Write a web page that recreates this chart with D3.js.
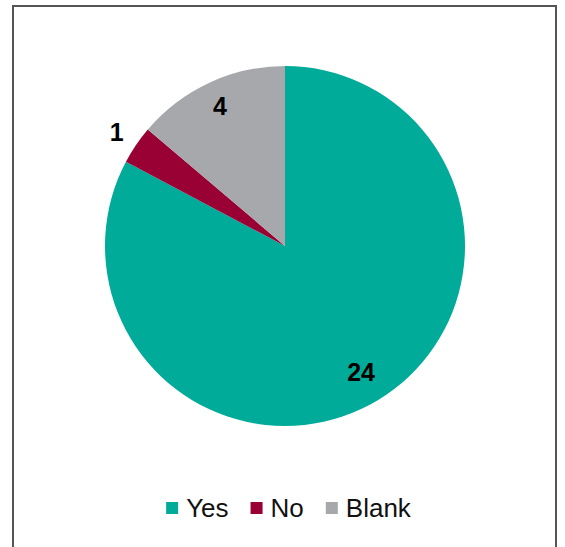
<!DOCTYPE html>
<html><head><meta charset="utf-8">
<script src="https://cdn.jsdelivr.net/npm/d3@7"></script>
<style>html,body{margin:0;padding:0;background:#fff;}svg{display:block;}</style>
</head><body>
<script>
const categories = ["Yes", "No", "Blank"];
const values = [24, 1, 4];
const colors = ["#00AB9A", "#990033", "#A7A8AB"];
const labelRadiusFactor = [0.82, 1.13, 0.86];

const W = 565, H = 547;
const cx = 285, cy = 246, R = 180;

const svg = d3.select("body").append("svg").attr("width", W).attr("height", H);
svg.append("rect").attr("x", 0).attr("y", 0).attr("width", W).attr("height", H).attr("fill", "#fff");
svg.append("rect").attr("x", 13).attr("y", 6).attr("width", 543).attr("height", H + 20)
  .attr("fill", "none").attr("stroke", "#555").attr("stroke-width", 2);

const data = categories.map((c, i) => ({cat: c, value: values[i], color: colors[i], lf: labelRadiusFactor[i]}));
const pie = d3.pie().value(d => d.value).sort(null);
const arc = d3.arc().innerRadius(0).outerRadius(R);
const arcs = pie(data);

const g = svg.append("g").attr("transform", `translate(${cx},${cy})`);
g.selectAll("path").data(arcs).enter().append("path")
  .attr("d", arc).attr("fill", d => d.data.color);

g.selectAll("text.lbl").data(arcs).enter().append("text")
  .attr("class", "lbl")
  .attr("x", d => { const a = (d.startAngle + d.endAngle) / 2; return Math.sin(a) * R * d.data.lf; })
  .attr("y", d => { const a = (d.startAngle + d.endAngle) / 2; return -Math.cos(a) * R * d.data.lf; })
  .attr("text-anchor", "middle").attr("dominant-baseline", "central")
  .attr("font-family", "Liberation Sans, Arial, sans-serif").attr("font-weight", "bold")
  .attr("font-size", 25).attr("fill", "#000")
  .text(d => d.data.value);

// legend
const lg = svg.append("g");
const items = lg.selectAll("g").data(data).enter().append("g");
items.append("rect").attr("width", 12).attr("height", 12).attr("y", 502).attr("fill", d => d.color);
items.append("text").attr("y", 517).attr("font-family", "Liberation Sans, Arial, sans-serif")
  .attr("font-size", 26).attr("fill", "#111").text(d => d.cat);
let x = 0;
items.each(function(d) {
  const tw = d3.select(this).select("text").node().getComputedTextLength();
  d3.select(this).select("rect").attr("x", x);
  d3.select(this).select("text").attr("x", x + 20);
  x += 20 + tw + 22;
});
const total = x - 22;
lg.attr("transform", `translate(${165 + (247 - total) / 2},0)`);
</script>
</body></html>
